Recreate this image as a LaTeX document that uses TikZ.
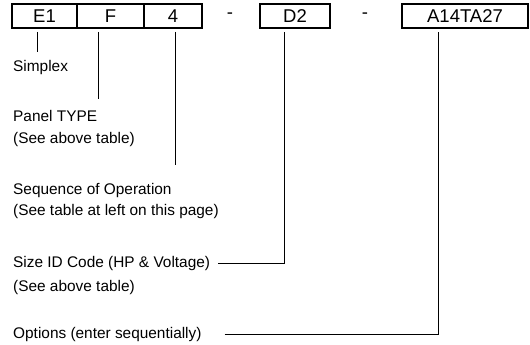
\documentclass[tikz,border=0pt]{standalone}
\usepackage{fontspec}
\setmainfont{Liberation Sans}
\usetikzlibrary{positioning}
\tikzset{
  codebox/.style={draw, line width=1.4pt, minimum height=24pt, inner sep=0pt, outer sep=0pt,
    font=\fontsize{18.5}{20}\selectfont},
  sep/.style={inner sep=0pt, font=\fontsize{18.5}{20}\selectfont},
  lbl/.style={anchor=base west, inner sep=0pt, font=\fontsize{15.4}{18}\selectfont},
  lead/.style={line width=1pt}
}
\begin{document}
\begin{tikzpicture}[x=1pt,y=1pt]
\useasboundingbox (0,0) rectangle (530,-345);

% model number boxes
\node[codebox, minimum width=65pt, anchor=north west] (e1) at (12,-4) {E1};
\node[codebox, minimum width=67pt, right=0pt of e1] (f) {F};
\node[codebox, minimum width=58pt, right=0pt of f] (four) {4};
\node[sep] (dasha) at (230,-16) {-};
\node[codebox, minimum width=70pt, anchor=north west] (d2) at (260,-4) {D2};
\node[sep] (dashb) at (365,-16) {-};
\node[codebox, minimum width=126pt, anchor=north west] (opt) at (402,-4) {A14TA27};

% labels
\node[lbl] (simplex) at (13,-72) {Simplex};
\node[lbl] (panel) at (13,-121) {Panel TYPE};
\node[lbl] (panelnote) at (13,-143) {(See above table)};
\node[lbl] (seq) at (13,-194) {Sequence of Operation};
\node[lbl] (seqnote) at (13,-215) {(See table at left on this page)};
\node[lbl] (size) at (13,-267) {Size ID Code (HP \& Voltage)};
\node[lbl] (sizenote) at (13,-291) {(See above table)};
\node[lbl] (options) at (13,-338) {Options (enter sequentially)};

% leaders
\draw[lead, shorten <=4pt, shorten >=9pt] ([xshift=-7.5pt]e1.south) -- ([xshift=-7.5pt]e1.south |- simplex.north);
\draw[lead, shorten <=4pt, shorten >=11pt] ([xshift=-12.5pt]f.south) -- ([xshift=-12.5pt]f.south |- panel.north);
\draw[lead, shorten <=4pt, shorten >=18pt] ([xshift=2pt]four.south) -- ([xshift=2pt]four.south |- seq.north);
\draw[lead, shorten <=8pt, shorten >=4pt] (size.east) -| ([xshift=-11pt]d2.south);
\draw[lead, shorten <=23pt, shorten >=4pt] (options.east) -| ([xshift=-27pt]opt.south);
\end{tikzpicture}
\end{document}
